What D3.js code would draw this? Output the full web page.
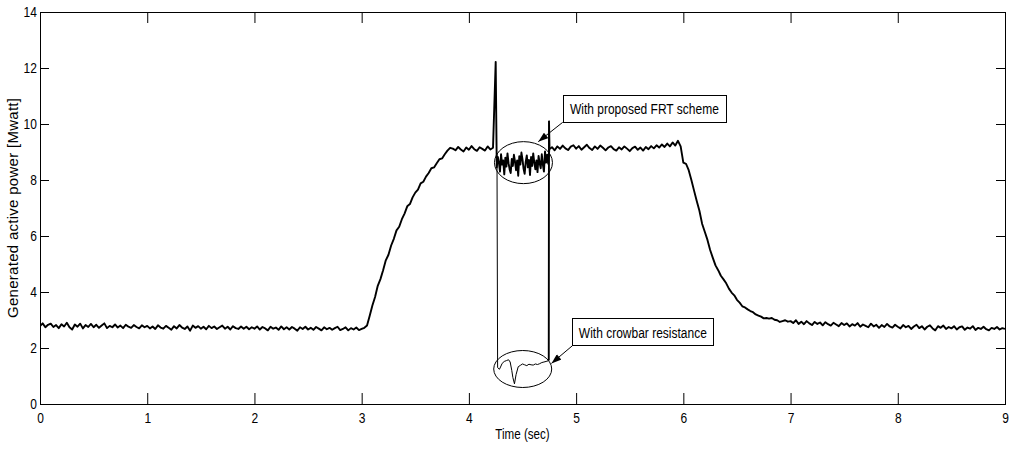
<!DOCTYPE html>
<html>
<head>
<meta charset="utf-8">
<script src="https://cdn.jsdelivr.net/npm/d3@7"></script>
<style>
  body { margin: 0; background: #fff; }
  text { font-family: "Liberation Sans", Arial, sans-serif; fill: #000; }
</style>
</head>
<body>
<div id="chart"></div>
<script>
// ---- data ----
// FRT scheme, t = 0 .. 4.225 s, every 0.025 s
var frtPreFault = [
  2.78, 2.88, 2.74, 2.83, 2.87, 2.75, 2.82, 2.71, 2.85, 2.77, 2.90, 2.74, 2.66, 2.84, 2.76, 2.87, 2.70, 2.82, 2.75, 2.86,
  2.74, 2.83, 2.72, 2.80, 2.88, 2.71, 2.79, 2.74, 2.84, 2.73, 2.80, 2.71, 2.83, 2.76, 2.72, 2.82, 2.75, 2.70, 2.81, 2.74,
  2.79, 2.70, 2.77, 2.68, 2.81, 2.73, 2.69, 2.79, 2.72, 2.65, 2.78, 2.70, 2.82, 2.73, 2.68, 2.77, 2.62, 2.80, 2.72, 2.78,
  2.69, 2.76, 2.67, 2.79, 2.71, 2.77, 2.68, 2.74, 2.80, 2.69, 2.76, 2.66, 2.78, 2.71, 2.68, 2.77, 2.69, 2.76, 2.67, 2.74,
  2.69, 2.77, 2.66, 2.75, 2.70, 2.63, 2.76, 2.69, 2.73, 2.65, 2.77, 2.67, 2.74, 2.66, 2.75, 2.69, 2.62, 2.74, 2.68, 2.76,
  2.66, 2.72, 2.65, 2.75, 2.69, 2.63, 2.74, 2.67, 2.72, 2.65, 2.71, 2.76, 2.64, 2.68, 2.74, 2.63, 2.71, 2.66, 2.73, 2.64,
  2.68, 2.72, 2.80, 3.15, 3.52, 3.82, 4.22, 4.46, 4.78, 5.13, 5.33, 5.66, 5.90, 6.20, 6.33, 6.60, 6.80, 7.06, 7.14, 7.38,
  7.55, 7.66, 7.88, 7.94, 8.12, 8.25, 8.42, 8.45, 8.60, 8.74, 8.77, 8.92, 9.05, 9.15, 9.12,
  9.06, 9.18, 9.09, 9.02, 9.16, 9.08, 9.21, 9.10, 9.04, 9.17, 9.11, 9.05, 9.20, 9.09, 9.15
];
// FRT scheme during the fault, t = 4.25 .. 4.74 s, every 0.01 s
var frtFault = [
  12.22,
  8.45, 8.82, 8.62, 8.30, 8.92, 8.55, 8.70, 8.20, 8.80, 8.48, 8.95, 8.60, 8.38, 8.25, 8.75, 8.50, 8.90, 8.66, 8.35, 8.70,
  8.15, 8.85, 8.55, 8.98, 8.74, 8.40, 8.22, 8.65, 8.88, 8.45, 8.72, 8.18, 8.82, 8.50, 8.95, 8.62, 8.38, 8.70, 8.28, 8.86,
  8.60, 8.42, 8.92, 8.55, 8.30, 9.02, 8.62, 8.90, 8.58
];
// FRT scheme after the fault, t = 4.75 .. 9 s, every 0.025 s
var frtPostFault = [
  9.10, 9.17, 9.06, 9.20, 9.11, 9.23, 9.13, 9.07, 9.19, 9.24, 9.12, 9.21, 9.08, 9.17, 9.26, 9.14, 9.07, 9.20, 9.11, 9.23,
  9.15, 9.06, 9.16, 9.21, 9.10, 9.05, 9.17, 9.09, 9.20, 9.12, 9.03, 9.14, 9.19, 9.08, 9.16, 9.05, 9.18, 9.10, 9.21, 9.13,
  9.24, 9.16, 9.27, 9.18, 9.30, 9.20, 9.34, 9.23, 9.40, 9.20,
  8.62, 8.58, 8.35, 8.00, 7.62, 7.25, 6.90, 6.44, 6.15, 5.86, 5.50, 5.22, 4.95, 4.78, 4.58, 4.45, 4.31, 4.12, 3.98, 3.88,
  3.72, 3.62, 3.49, 3.45, 3.38, 3.32, 3.28, 3.20, 3.16, 3.12, 3.06, 3.07, 3.05, 3.07, 3.01, 2.99, 2.93, 2.96, 2.99, 2.94,
  2.96, 2.89, 2.99, 2.86, 2.94, 2.85, 2.96, 2.88, 2.82, 2.93, 2.86, 2.91, 2.81, 2.92, 2.85, 2.80, 2.90, 2.84, 2.78, 2.89,
  2.82, 2.88, 2.77, 2.85, 2.80, 2.89, 2.76, 2.84, 2.79, 2.74, 2.87, 2.77, 2.83, 2.72, 2.82, 2.75, 2.86, 2.77, 2.73, 2.83,
  2.76, 2.70, 2.82, 2.74, 2.79, 2.68, 2.77, 2.83, 2.71, 2.78, 2.66, 2.76, 2.81, 2.70, 2.63, 2.78, 2.72, 2.80, 2.68, 2.75,
  2.70, 2.78, 2.66, 2.74, 2.77, 2.65, 2.73, 2.69, 2.78, 2.64, 2.72, 2.68, 2.76, 2.67, 2.63, 2.72, 2.68, 2.75, 2.66, 2.71, 2.68
];
// crowbar resistance, only shown where it differs (fault period)
var crowbarTime = [4.262, 4.268, 4.285, 4.295, 4.31, 4.33, 4.35, 4.37, 4.385, 4.40, 4.41, 4.425, 4.44, 4.46, 4.48,
  4.50, 4.52, 4.54, 4.56, 4.58, 4.60, 4.62, 4.64, 4.66, 4.68, 4.70, 4.72, 4.745, 4.747, 4.752];
var crowbarPower = [8.95, 1.30, 1.24, 1.32, 1.45, 1.52, 1.55, 1.58, 1.50, 1.20, 0.95, 0.72, 1.05, 1.33, 1.38,
  1.43, 1.40, 1.37, 1.42, 1.40, 1.39, 1.43, 1.41, 1.44, 1.48, 1.50, 1.52, 1.55, 10.12, 9.12];

var xTicks = [0, 1, 2, 3, 4, 5, 6, 7, 8, 9];
var yTicks = [0, 2, 4, 6, 8, 10, 12, 14];

// ---- layout ----
var svgWidth = 1014;
var svgHeight = 449;
var margin = { top: 12, left: 40, right: 9, bottom: 45 };
var Width = svgWidth - margin.left - margin.right;
var Height = svgHeight - margin.top - margin.bottom;

var svg = d3.select("#chart").append("svg")
  .attr("width", svgWidth)
  .attr("height", svgHeight);

var chartGroup = svg.append("g").attr("transform", `translate(${margin.left},${margin.top})`);

var xScale = d3.scaleLinear().domain([0, 9]).range([0, Width]);
var yScale = d3.scaleLinear().domain([0, 14]).range([Height, 0]);

// build point lists on the sampling grid
function segment(t0, dt, values) {
  return values.map(function (v, i) { return { t: t0 + i * dt, v: v }; });
}
var frtData = segment(0, 0.025, frtPreFault)
  .concat(segment(4.25, 0.01, frtFault))
  .concat(segment(4.75, 0.025, frtPostFault));
var crowbarData = crowbarTime.map(function (t, i) { return { t: t, v: crowbarPower[i] }; });
// the recovery edge merges back into the main trace and is drawn as heavy as it
var nRecovery = 3;
var crowbarFault = crowbarData.slice(0, crowbarData.length - nRecovery + 1);
var crowbarRecovery = crowbarData.slice(crowbarData.length - nRecovery);

// narrow text: the original uses a condensed face
function narrowText(parent, x, y, str, size, anchor) {
  var g = parent.append("g").attr("transform", `translate(${x},${y})`);
  return g.append("text")
    .attr("transform", "scale(0.8,1)")
    .attr("text-anchor", anchor)
    .attr("font-size", size)
    .text(str);
}

// ---- axes (ticks inward on all four sides) ----
function styleAxis(g) {
  g.select(".domain").remove();
  g.attr("font-family", null).attr("font-size", 15);
  g.selectAll(".tick line").attr("stroke", "#000");
  g.selectAll(".tick text").attr("transform", "scale(0.8,1)");
}

chartGroup.append("g")
  .attr("transform", `translate(0,${Height})`)
  .call(d3.axisBottom(xScale).tickValues(xTicks).tickSizeInner(-11).tickSizeOuter(0).tickPadding(8))
  .call(styleAxis);

chartGroup.append("g")
  .call(d3.axisTop(xScale).tickValues(xTicks).tickSizeInner(-11).tickSizeOuter(0).tickFormat(""))
  .call(styleAxis);

chartGroup.append("g")
  .call(d3.axisLeft(yScale).tickValues(yTicks).tickSizeInner(-9).tickSizeOuter(0).tickPadding(4))
  .call(styleAxis);

chartGroup.append("g")
  .attr("transform", `translate(${Width},0)`)
  .call(d3.axisRight(yScale).tickValues(yTicks).tickSizeInner(-9).tickSizeOuter(0).tickFormat(""))
  .call(styleAxis);

chartGroup.append("rect")
  .attr("x", 0.5).attr("y", 0.5)
  .attr("width", Width).attr("height", Height)
  .attr("fill", "none").attr("stroke", "#000").attr("stroke-width", 1);

// ---- curves ----
svg.append("defs").append("clipPath").attr("id", "plotClip")
  .append("rect").attr("width", Width).attr("height", Height);

var line = d3.line().x(d => xScale(d.t)).y(d => yScale(d.v));

var curves = chartGroup.append("g").attr("clip-path", "url(#plotClip)");
curves.append("path").datum(frtData)
  .attr("d", line).attr("fill", "none").attr("stroke", "#000")
  .attr("stroke-width", 1.9).attr("stroke-linejoin", "round");
curves.append("path").datum(crowbarFault)
  .attr("d", line).attr("fill", "none").attr("stroke", "#000")
  .attr("stroke-width", 1);
curves.append("path").datum(crowbarRecovery)
  .attr("d", line).attr("fill", "none").attr("stroke", "#000")
  .attr("stroke-width", 1.9);

// ---- annotations ----
svg.select("defs").append("marker")
  .attr("id", "arrowHead")
  .attr("viewBox", "0 0 10 7")
  .attr("refX", 10).attr("refY", 3.5)
  .attr("markerWidth", 11).attr("markerHeight", 7)
  .attr("markerUnits", "userSpaceOnUse")
  .attr("orient", "auto")
  .append("path").attr("d", "M0,0L10,3.5L0,7Z").attr("fill", "#000");

var notes = [
  { label: "With proposed FRT scheme", ell: [4.509, 8.62], rx: 29, ry: 21,
    box: [4.875, 6.398, 11.04, 10.06], tip: [4.647, 9.37] },
  { label: "With crowbar resistance", ell: [4.502, 1.25], rx: 29, ry: 18.5,
    box: [4.965, 6.28, 3.06, 2.08], tip: [4.770, 1.45] }
];

notes.forEach(function (n) {
  chartGroup.append("ellipse")
    .attr("cx", xScale(n.ell[0])).attr("cy", yScale(n.ell[1]))
    .attr("rx", n.rx).attr("ry", n.ry)
    .attr("fill", "none").attr("stroke", "#000").attr("stroke-width", 1);

  var bx0 = xScale(n.box[0]), bx1 = xScale(n.box[1]);
  var by0 = yScale(n.box[2]), by1 = yScale(n.box[3]);

  chartGroup.append("line")
    .attr("x1", bx0).attr("y1", by1)
    .attr("x2", xScale(n.tip[0])).attr("y2", yScale(n.tip[1]))
    .attr("stroke", "#000").attr("stroke-width", 1)
    .attr("marker-end", "url(#arrowHead)");

  chartGroup.append("rect")
    .attr("x", Math.round(bx0) + 0.5).attr("y", Math.round(by0) + 0.5)
    .attr("width", Math.round(bx1 - bx0)).attr("height", Math.round(by1 - by0))
    .attr("fill", "#fff").attr("stroke", "#000").attr("stroke-width", 1);

  narrowText(chartGroup, (bx0 + bx1) / 2, (by0 + by1) / 2 + 5.5, n.label, 15, "middle");
});

// ---- axis titles ----
narrowText(svg, margin.left + Width / 2, 439, "Time (sec)", 14.5, "middle");

svg.append("text")
  .attr("transform", `translate(18,${margin.top + Height / 2}) rotate(-90)`)
  .attr("text-anchor", "middle")
  .attr("font-size", 15)
  .attr("textLength", 220)
  .attr("lengthAdjust", "spacing")
  .text("Generated active power [Mwatt]");
</script>
</body>
</html>
